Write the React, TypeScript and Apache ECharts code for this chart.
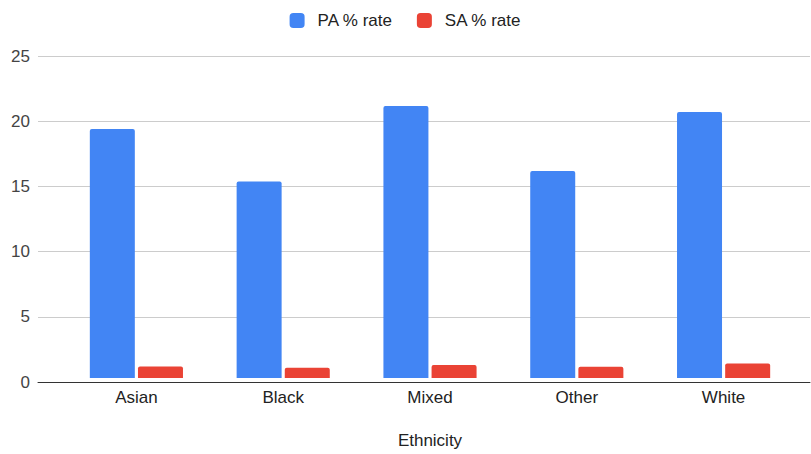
import React, { useEffect, useRef } from "react";
import * as echarts from "echarts";

const categories = ["Asian", "Black", "Mixed", "Other", "White"];
const paRate = [19.33, 15.26, 21.11, 16.08, 20.65];
const saRate = [0.9, 0.8, 1.0, 0.88, 1.13];
const seriesNames = ["PA % rate", "SA % rate"];
const axisTitle = "Ethnicity";

export default function App() {
  const ref = useRef<HTMLDivElement>(null);
  useEffect(() => {
    if (!ref.current) return;
    const chart = echarts.init(ref.current, undefined, { renderer: "svg" });
    const font = "Arial, 'Liberation Sans', sans-serif";
    chart.setOption({
      animation: false,
      textStyle: { fontFamily: font },
      legend: {
        top: 7,
        left: "center",
        itemWidth: 15,
        itemHeight: 15,
        itemGap: 24,
        icon: "roundRect",
        textStyle: { fontSize: 17, color: "#222", padding: [0, 0, 0, 8], fontFamily: font },
        data: seriesNames,
      },
      grid: [
        { left: 38, right: 1, top: 56, bottom: 72, containLabel: false },
        { left: 63, right: 14, top: 56, bottom: 72, containLabel: false },
      ],
      xAxis: [
        {
          type: "category",
          gridIndex: 0,
          data: categories,
          axisLine: { show: true, lineStyle: { color: "#333", width: 1 } },
          axisTick: { show: false },
          axisLabel: { show: false },
        },
        {
          type: "category",
          gridIndex: 1,
          data: categories,
          axisLine: { show: false },
          axisTick: { show: false },
          axisLabel: { fontSize: 17, color: "#222", margin: 11, fontFamily: font },
          name: axisTitle,
          nameLocation: "middle",
          nameGap: 54,
          nameTextStyle: { fontSize: 17, color: "#222", fontFamily: font },
        },
      ],
      yAxis: [
        {
          type: "value",
          gridIndex: 0,
          min: 0,
          max: 25,
          interval: 5,
          axisLine: { show: false },
          axisTick: { show: false },
          axisLabel: { fontSize: 17, color: "#444", margin: 8, fontFamily: font },
          splitLine: { lineStyle: { color: "#ccc", width: 1 } },
        },
        {
          type: "value",
          gridIndex: 1,
          min: 0,
          max: 25,
          interval: 5,
          axisLine: { show: false },
          axisTick: { show: false },
          axisLabel: { show: false },
          splitLine: { show: false },
        },
      ],
      series: [
        {
          name: seriesNames[0],
          type: "bar",
          xAxisIndex: 1,
          yAxisIndex: 1,
          data: paRate,
          barWidth: 45,
          barGap: "7%",
          itemStyle: { color: "#4285F4", borderRadius: [2, 2, 0, 0] },
        },
        {
          name: seriesNames[1],
          type: "bar",
          xAxisIndex: 1,
          yAxisIndex: 1,
          data: saRate,
          barWidth: 45,
          barGap: "7%",
          itemStyle: { color: "#EA4335", borderRadius: [2, 2, 0, 0] },
        },
      ],
    });
    return () => chart.dispose();
  }, []);
  return <div ref={ref} style={{ width: 811, height: 454, position: "absolute", left: 0, top: 0 }} />;
}
